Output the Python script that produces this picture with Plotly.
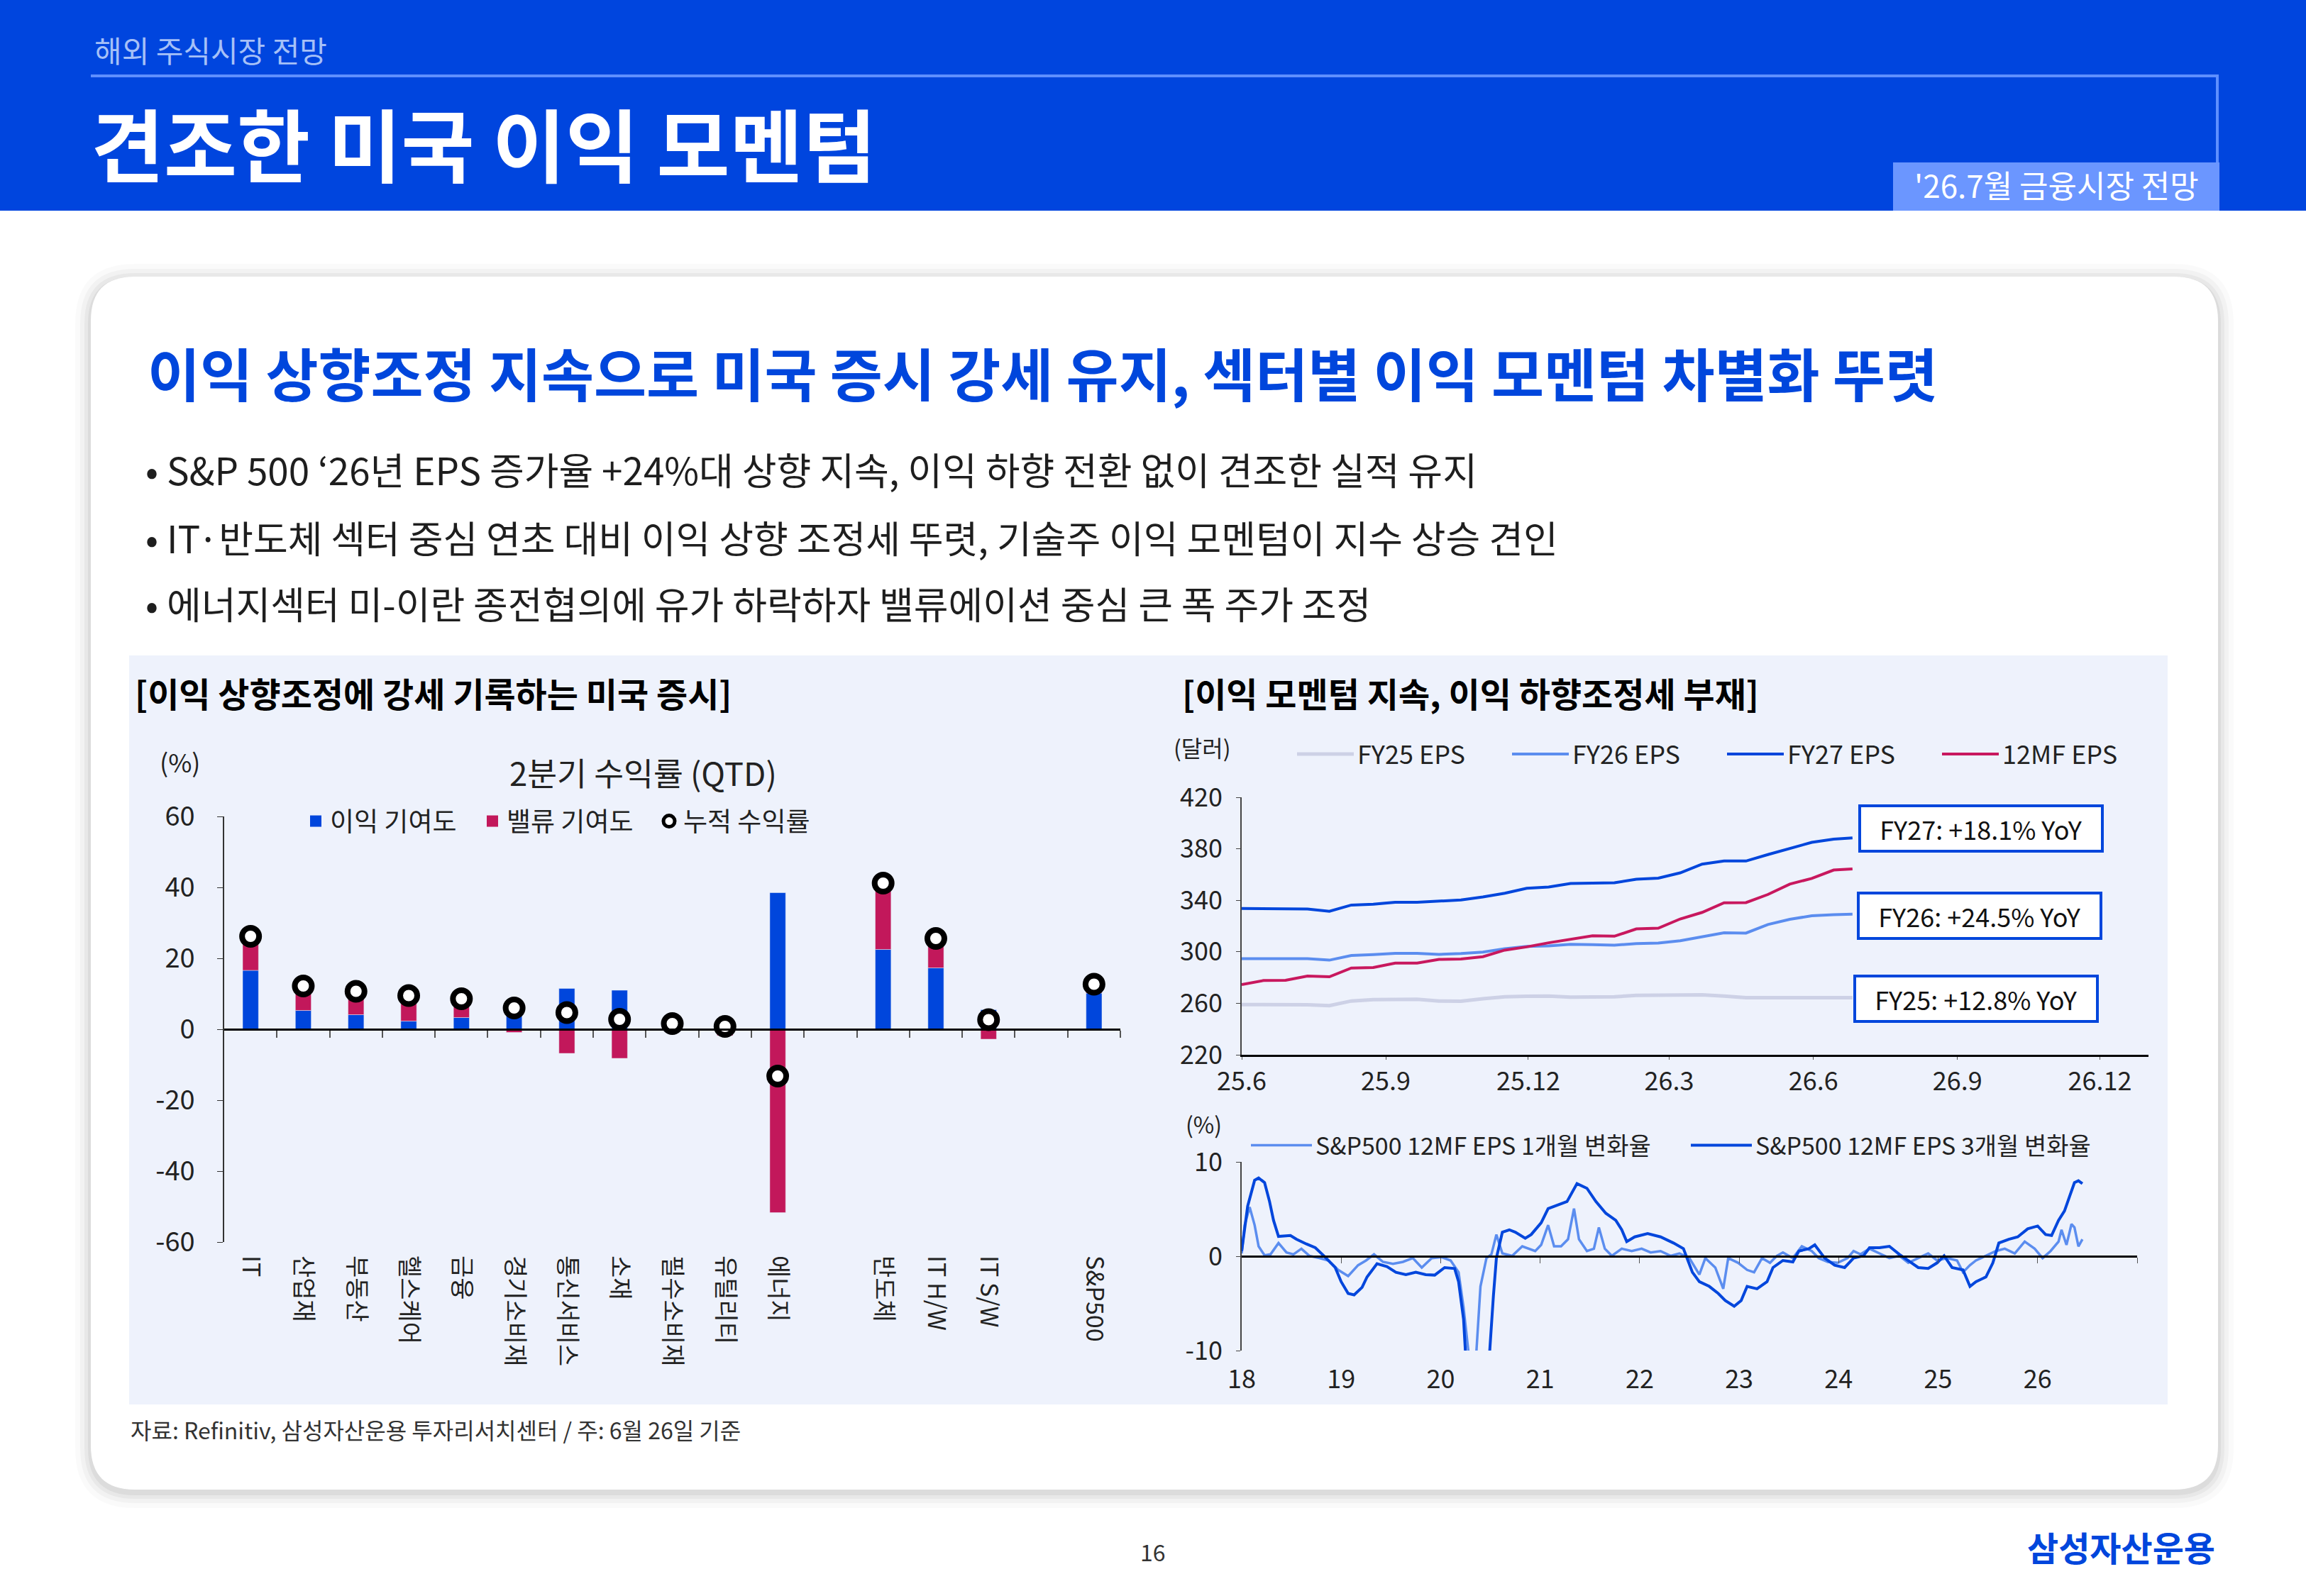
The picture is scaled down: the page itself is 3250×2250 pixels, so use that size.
import plotly.graph_objects as go

W, H = 3250, 2250
FONT = "Noto Sans CJK KR"
BLUE = "#0046DC"
PINK = "#C2185B"
MIDBLUE = "#5B8DEF"
LIGHTGREY = "#CDD1E6"
PANEL = "#EEF2FC"
TXT = "#1E1E1E"

# ---------------- left chart: 2Q QTD return decomposition ----------------
sectors = ["IT", "산업재", "부동산", "헬스케어", "금융", "경기소비재", "통신서비스", "소재",
           "필수소비재", "유틸리티", "에너지", "", "반도체", "IT H/W", "IT S/W", "", "S&P500"]
earn_contrib = [16.6, 5.3, 4.1, 2.3, 3.3, 6.9, 11.5, 11.0, 1.8, 2.6, 38.5, None, 22.5, 17.3, 5.5, None, 10.2]
value_contrib = [9.6, 6.9, 6.6, 7.2, 5.3, -0.9, -6.8, -8.2, -0.2, -1.8, -51.7, None, 18.7, 8.3, -2.8, None, 2.5]
qtd_return = [26.2, 12.2, 10.7, 9.5, 8.6, 6.0, 4.7, 2.8, 1.6, 0.8, -13.2, None, 41.2, 25.6, 2.7, None, 12.7]
left_yticks = [-60, -40, -20, 0, 20, 40, 60]
left_yticklabels = ["-60", "-40", "-20", "0", "20", "40", "60"]

# ---------------- right top: S&P500 EPS estimates ----------------
eps_dates = ["2025-06-01", "2025-06-15", "2025-06-29", "2025-07-13", "2025-07-27", "2025-08-10",
             "2025-08-24", "2025-09-07", "2025-09-21", "2025-10-05", "2025-10-19", "2025-11-02",
             "2025-11-16", "2025-11-30", "2025-12-14", "2025-12-28", "2026-01-11", "2026-01-25",
             "2026-02-08", "2026-02-22", "2026-03-08", "2026-03-22", "2026-04-05", "2026-04-19",
             "2026-05-03", "2026-05-17", "2026-05-31", "2026-06-14", "2026-06-26"]
fy25_eps = [259.0, 259.0, 259.0, 258.8, 258.2, 261.8, 262.8, 263.1, 263.1, 261.8, 261.6, 263.5, 265.0,
            265.4, 265.6, 264.7, 264.8, 265.0, 266.2, 266.5, 266.6, 266.5, 265.6, 264.4, 264.4, 264.4,
            264.4, 264.4, 264.4]
fy26_eps = [294.6, 294.6, 294.6, 294.6, 293.5, 297.1, 297.8, 298.8, 298.8, 298.0, 298.7, 299.8, 302.4,
            304.2, 304.6, 305.8, 305.6, 305.1, 306.4, 306.8, 308.6, 311.7, 314.8, 314.5, 321.2, 325.2,
            328.0, 328.8, 329.2]
fy27_eps = [333.6, 333.6, 333.2, 333.2, 331.5, 336.3, 337.0, 338.5, 338.4, 339.3, 340.3, 342.6, 345.5,
            349.3, 350.3, 353.0, 353.1, 353.6, 356.4, 357.2, 361.3, 368.1, 370.5, 370.5, 375.5, 380.5,
            385.0, 387.5, 388.5]
mf12_eps = [274.5, 277.7, 277.9, 281.2, 280.6, 287.4, 287.8, 291.2, 291.2, 294.1, 294.4, 296.2, 301.3,
            303.8, 307.0, 309.5, 312.4, 312.1, 317.8, 318.3, 325.5, 330.6, 338.1, 338.2, 344.5, 352.6,
            357.0, 363.5, 364.4]
eps_tick_dates = ["2025-06-01", "2025-09-01", "2025-12-01", "2026-03-01", "2026-06-01", "2026-09-01", "2026-12-01"]
eps_tick_labels = ["25.6", "25.9", "25.12", "26.3", "26.6", "26.9", "26.12"]
eps_yticks = [220, 260, 300, 340, 380, 420]
yoy_labels = ["FY27: +18.1% YoY", "FY26: +24.5% YoY", "FY25: +12.8% YoY"]

# ---------------- right bottom: 12MF EPS revisions ----------------
chg1m_x = [2018.00, 2018.03, 2018.08, 2018.13, 2018.17, 2018.23, 2018.29, 2018.37, 2018.45, 2018.52,
           2018.60, 2018.68, 2018.78, 2018.87, 2018.97, 2019.07, 2019.17, 2019.25, 2019.33, 2019.42,
           2019.52, 2019.62, 2019.72, 2019.81, 2019.91, 2020.01, 2020.10, 2020.18, 2020.23, 2020.28,
           2020.33, 2020.40, 2020.46, 2020.51, 2020.56, 2020.62, 2020.72, 2020.82, 2020.88, 2020.95,
           2021.01, 2021.08, 2021.14, 2021.21, 2021.28, 2021.34, 2021.39, 2021.47, 2021.54, 2021.59,
           2021.65, 2021.72, 2021.82, 2021.92, 2022.02, 2022.11, 2022.21, 2022.31, 2022.40, 2022.50,
           2022.60, 2022.66, 2022.76, 2022.84, 2022.89, 2022.99, 2023.08, 2023.15, 2023.23, 2023.31,
           2023.38, 2023.44, 2023.54, 2023.63, 2023.73, 2023.80, 2023.89, 2023.99, 2024.09, 2024.15,
           2024.22, 2024.31, 2024.41, 2024.51, 2024.61, 2024.70, 2024.80, 2024.90, 2024.99, 2025.09,
           2025.19, 2025.25, 2025.32, 2025.38, 2025.48, 2025.58, 2025.67, 2025.77, 2025.87, 2025.97,
           2026.05, 2026.13, 2026.21, 2026.24, 2026.29, 2026.34, 2026.37, 2026.41, 2026.45]
chg1m = [0.3, 3.3, 5.2, 3.3, 1.05, 0.1, 0.2, 1.4, 0.4, 0.2,
         0.8, 0.05, -0.2, -0.45, -1.45, -2.1, -0.95, -0.45, 0.2, -0.6,
         -0.8, -0.6, -0.2, -1.2, -0.2, -0.1, -0.45, -1.7, -5.45, -10.5,
         -15.0, -3.2, -0.2, 0.2, 2.3, 0.3, 0.05, 1.05, 0.8, 0.55,
         1.2, 3.3, 1.05, 1.05, 1.8, 5.05, 1.8, 0.55, 0.8, 3.05,
         0.8, 0.05, 0.8, 0.55, 0.8, 0.4, 0.55, 0.05, 0.3, -0.2,
         -1.95, -0.2, -1.2, -3.45, -0.2, -0.7, -1.45, -1.7, -0.2, -0.7,
         0.05, 0.4, -0.2, 1.05, 0.55, -0.2, -0.6, -0.7, -0.2, 0.55,
         0.2, 0.8, 0.3, -0.2, 0.05, -0.7, -0.2, 0.3, -0.45, -0.2,
         -0.45, -1.7, -0.95, -0.45, 0.05, 0.55, 0.8, 0.3, 1.55, 0.8,
         -0.2, 0.55, 1.55, 2.8, 1.2, 3.4, 3.05, 1.05, 1.8]
chg3m_x = [2018.00, 2018.06, 2018.13, 2018.17, 2018.23, 2018.28, 2018.32, 2018.37, 2018.49, 2018.55,
           2018.65, 2018.74, 2018.84, 2018.94, 2019.00, 2019.07, 2019.13, 2019.21, 2019.26, 2019.36,
           2019.46, 2019.55, 2019.65, 2019.75, 2019.85, 2019.94, 2020.04, 2020.14, 2020.18, 2020.23,
           2020.27, 2020.33, 2020.43, 2020.49, 2020.53, 2020.56, 2020.62, 2020.69, 2020.75, 2020.85,
           2020.91, 2021.01, 2021.08, 2021.17, 2021.27, 2021.37, 2021.47, 2021.56, 2021.66, 2021.76,
           2021.82, 2021.87, 2021.95, 2022.08, 2022.21, 2022.34, 2022.44, 2022.53, 2022.60, 2022.70,
           2022.79, 2022.86, 2022.95, 2023.02, 2023.08, 2023.18, 2023.28, 2023.34, 2023.44, 2023.54,
           2023.60, 2023.70, 2023.76, 2023.86, 2023.96, 2024.06, 2024.15, 2024.25, 2024.31, 2024.41,
           2024.51, 2024.61, 2024.70, 2024.80, 2024.90, 2024.99, 2025.06, 2025.14, 2025.25, 2025.32,
           2025.38, 2025.48, 2025.55, 2025.61, 2025.71, 2025.80, 2025.90, 2026.00, 2026.08, 2026.14,
           2026.21, 2026.27, 2026.32, 2026.37, 2026.41, 2026.45]
chg3m = [0.55, 5.3, 8.05, 8.3, 7.8, 5.8, 3.8, 2.1, 2.2, 1.8,
         1.3, 0.9, -0.1, -1.2, -2.7, -3.95, -4.1, -3.3, -2.2, -0.8,
         -1.1, -1.7, -1.95, -1.7, -1.95, -2.0, -1.2, -1.3, -2.7, -6.7,
         -14.0, -22.0, -22.0, -10.5, -4.2, -0.2, 2.55, 2.8, 2.55, 1.9,
         2.3, 3.55, 5.05, 5.4, 5.8, 7.7, 7.2, 5.8, 4.55, 3.8,
         2.8, 1.55, 2.05, 2.4, 2.05, 1.4, 0.8, -1.7, -2.7, -3.2,
         -3.95, -4.7, -5.3, -4.7, -3.2, -3.45, -2.7, -1.2, -0.45, -0.6,
         0.55, 0.8, 1.2, -0.2, -0.95, -1.2, -0.2, 0.05, 0.9, 0.9,
         1.05, 0.2, -0.45, -1.2, -1.3, -0.7, 0.05, -1.2, -1.45, -3.2,
         -2.7, -2.2, -0.7, 1.4, 1.8, 2.05, 2.9, 3.2, 2.3, 2.2,
         3.8, 4.8, 6.3, 7.8, 8.0, 7.7]
year_ticks = [2018, 2019, 2020, 2021, 2022, 2023, 2024, 2025, 2026]
year_labels = ["18", "19", "20", "21", "22", "23", "24", "25", "26"]
rev_yticks = [-10, 0, 10]
rev_yticklabels = ["-10", "0", "10"]

# ---------------- slide texts ----------------
section_label = "해외 주식시장 전망"
page_title = "견조한 미국 이익 모멘텀"
issue_label = "'26.7월 금융시장 전망"
headline = "이익 상향조정 지속으로 미국 증시 강세 유지, 섹터별 이익 모멘텀 차별화 뚜렷"
bullets = ["• S&P 500 ‘26년 EPS 증가율 +24%대 상향 지속, 이익 하향 전환 없이 견조한 실적 유지",
           "• IT·반도체 섹터 중심 연초 대비 이익 상향 조정세 뚜렷, 기술주 이익 모멘텀이 지수 상승 견인",
           "• 에너지섹터 미-이란 종전협의에 유가 하락하자 밸류에이션 중심 큰 폭 주가 조정"]
left_title = "[이익 상향조정에 강세 기록하는 미국 증시]"
right_title = "[이익 모멘텀 지속, 이익 하향조정세 부재]"
source_note = "자료: Refinitiv, 삼성자산운용 투자리서치센터 / 주: 6월 26일 기준"


def px(x):
    return x / W


def py(y):
    return 1 - y / H


xpos = list(range(len(sectors)))
label_idx = [i for i, s in enumerate(sectors) if s]
label_txt = [sectors[i] for i in label_idx]
boundaries = [i + 0.5 for i in xpos]

fig = go.Figure()
fig.add_trace(go.Bar(x=xpos, y=earn_contrib, name="이익 기여도", marker_color=BLUE, width=0.3,
                     xaxis="x", yaxis="y", showlegend=False))
fig.add_trace(go.Bar(x=xpos, y=value_contrib, name="밸류 기여도", marker_color=PINK, width=0.3,
                     xaxis="x", yaxis="y", showlegend=False))
# legend keys for the bar series (square swatches as in the reference)
fig.add_trace(go.Scatter(x=[None], y=[None], mode="markers", name="이익 기여도",
                         marker=dict(symbol="square", size=16, color=BLUE), xaxis="x", yaxis="y", legend="legend"))
fig.add_trace(go.Scatter(x=[None], y=[None], mode="markers", name="밸류 기여도",
                         marker=dict(symbol="square", size=16, color=PINK), xaxis="x", yaxis="y", legend="legend"))
fig.add_trace(go.Scatter(x=xpos, y=qtd_return, mode="markers", name="누적 수익률",
                         marker=dict(size=24, color="white", line=dict(color="black", width=8)),
                         xaxis="x4", yaxis="y", legend="legend"))

for name, vals, col, wd in [("FY25 EPS", fy25_eps, LIGHTGREY, 5), ("FY26 EPS", fy26_eps, MIDBLUE, 4),
                            ("FY27 EPS", fy27_eps, BLUE, 4), ("12MF EPS", mf12_eps, "#C8185E", 4)]:
    fig.add_trace(go.Scatter(x=eps_dates, y=vals, mode="lines", name=name,
                             line=dict(color=col, width=wd), xaxis="x2", yaxis="y2", legend="legend2"))

fig.add_trace(go.Scatter(x=chg1m_x, y=chg1m, mode="lines", name="S&P500 12MF EPS 1개월 변화율",
                         line=dict(color=MIDBLUE, width=3.5), xaxis="x3", yaxis="y3", legend="legend3"))
fig.add_trace(go.Scatter(x=chg3m_x, y=chg3m, mode="lines", name="S&P500 12MF EPS 3개월 변화율",
                         line=dict(color=BLUE, width=4), xaxis="x5", yaxis="y3", legend="legend3"))

# domains
L_x = [px(316), px(1579)]
L_y = [py(1751), py(1151)]
RT_x = [px(1750), px(3028)]
RT_y = [py(1487), py(1124)]
RB_x = [px(1750), px(3012)]
RB_y = [py(1904), py(1638)]
L_range = [-60, 60]
RB_range = [-10, 10]
L_zero = L_y[0] + (0 - L_range[0]) / (L_range[1] - L_range[0]) * (L_y[1] - L_y[0])
RB_zero = RB_y[0] + (0 - RB_range[0]) / (RB_range[1] - RB_range[0]) * (RB_y[1] - RB_y[0])

tickfont = dict(family=FONT, size=36, color="#222")

layout = dict(
    width=W, height=H, margin=dict(l=0, r=0, t=0, b=0, pad=0, autoexpand=False), autosize=False,
    paper_bgcolor="white", plot_bgcolor="rgba(0,0,0,0)", barmode="relative",
    font=dict(family=FONT, color="#222"), showlegend=True,
    xaxis=dict(domain=L_x, range=[-0.5, len(sectors) - 0.5], anchor="y", tickvals=label_idx,
               ticktext=label_txt, tickangle=90, tickfont=dict(family=FONT, size=34, color="#222"),
               showline=False, ticks="", showgrid=False, zeroline=False, ticklabelstandoff=18,
               automargin=False),
    xaxis4=dict(overlaying="x", anchor="free", position=L_zero, side="bottom",
                range=[-0.5, len(sectors) - 0.5], showline=True, linecolor="black", linewidth=2.5,
                ticks="outside", ticklen=10, tickwidth=1.5, tickcolor="#555", tickvals=boundaries,
                showticklabels=False, showgrid=False, zeroline=False, automargin=False),
    yaxis=dict(domain=L_y, range=L_range, anchor="x", tickvals=left_yticks, ticktext=left_yticklabels,
               showline=True, linecolor="#333", linewidth=1.5, ticks="outside", ticklen=8, tickcolor="#333",
               tickfont=dict(family=FONT, size=38, color="#222"), showgrid=False, zeroline=False,
               ticklabelstandoff=24, automargin=False),
    xaxis2=dict(type="date", domain=RT_x, range=["2025-06-01", "2027-01-01"], anchor="y2",
                tickvals=eps_tick_dates, ticktext=eps_tick_labels, showline=True, linecolor="black",
                linewidth=3, ticks="outside", ticklen=4, tickcolor="#555", tickfont=tickfont,
                showgrid=False, zeroline=False, ticklabelstandoff=0, automargin=False),
    yaxis2=dict(domain=RT_y, range=[220, 420], anchor="x2", tickvals=eps_yticks, showline=True,
                linecolor="#444", linewidth=1.5, ticks="outside", ticklen=6, tickcolor="#444",
                tickfont=tickfont, showgrid=False, zeroline=False, ticklabelstandoff=12, automargin=False),
    xaxis3=dict(domain=RB_x, range=[2018, 2027], anchor="y3", tickvals=year_ticks, ticktext=year_labels,
                showline=False, ticks="", tickfont=tickfont, showgrid=False, zeroline=False,
                ticklabelstandoff=16, automargin=False),
    xaxis5=dict(overlaying="x3", anchor="free", position=RB_zero, side="bottom", range=[2018, 2027],
                showline=True, linecolor="black", linewidth=2.5, ticks="outside", ticklen=8,
                tickcolor="#555", tickvals=year_ticks[1:] + [2027], showticklabels=False,
                showgrid=False, zeroline=False, automargin=False),
    yaxis3=dict(domain=RB_y, range=RB_range, anchor="x3", tickvals=rev_yticks, ticktext=rev_yticklabels,
                showline=True, linecolor="#444", linewidth=1.5, ticks="outside", ticklen=6,
                tickcolor="#444", tickfont=tickfont, showgrid=False, zeroline=False,
                ticklabelstandoff=12, automargin=False),
    legend=dict(x=px(425), y=py(1158), xanchor="left", yanchor="middle", orientation="h",
                font=dict(family=FONT, size=37, color="#222"), bgcolor="rgba(0,0,0,0)",
                entrywidth=204, entrywidthmode="pixels", traceorder="normal"),
    legend2=dict(x=px(1823), y=py(1063), xanchor="left", yanchor="middle", orientation="h",
                 font=dict(family=FONT, size=36, color="#222"), bgcolor="rgba(0,0,0,0)",
                 itemwidth=80, entrywidth=208, entrywidthmode="pixels", traceorder="normal"),
    legend3=dict(x=px(1758), y=py(1615), xanchor="left", yanchor="middle", orientation="h",
                 font=dict(family=FONT, size=34, color="#222"), bgcolor="rgba(0,0,0,0)",
                 itemwidth=86, entrywidth=519, entrywidthmode="pixels", traceorder="normal"),
)


def rrect(x0, y0, x1, y1, r):
    X, Y = px, py
    return (f"M {X(x0 + r)},{Y(y0)} L {X(x1 - r)},{Y(y0)} Q {X(x1)},{Y(y0)} {X(x1)},{Y(y0 + r)} "
            f"L {X(x1)},{Y(y1 - r)} Q {X(x1)},{Y(y1)} {X(x1 - r)},{Y(y1)} L {X(x0 + r)},{Y(y1)} "
            f"Q {X(x0)},{Y(y1)} {X(x0)},{Y(y1 - r)} L {X(x0)},{Y(y0 + r)} Q {X(x0)},{Y(y0)} {X(x0 + r)},{Y(y0)} Z")


shapes = []
for grow, op in [(22, 0.02), (15, 0.03), (9, 0.04), (4, 0.05)]:
    shapes.append(dict(type="path", path=rrect(128 - grow, 390 - grow + 4, 3126 + grow, 2100 + grow + 4, 62 + grow),
                       xref="paper", yref="paper", fillcolor=f"rgba(0,0,0,{op})", line=dict(width=0),
                       layer="below"))
shapes.append(dict(type="path", path=rrect(128, 390, 3126, 2100, 62), xref="paper", yref="paper",
                   fillcolor="white", line=dict(width=0), layer="below"))
shapes.append(dict(type="rect", xref="paper", yref="paper", x0=px(182), x1=px(3055), y0=py(1980), y1=py(924),
                   fillcolor=PANEL, line=dict(width=0), layer="below"))
shapes.append(dict(type="rect", xref="paper", yref="paper", x0=0, x1=1, y0=py(297), y1=1,
                   fillcolor="#0045DE", line=dict(width=0), layer="below"))
shapes.append(dict(type="path", xref="paper", yref="paper",
                   path=f"M {px(128)},{py(107)} L {px(3125)},{py(107)} L {px(3125)},{py(230)}",
                   line=dict(color="#5F8FFF", width=4), fillcolor="rgba(0,0,0,0)", layer="below"))
shapes.append(dict(type="rect", xref="paper", yref="paper", x0=px(2668), x1=px(3128), y0=py(297), y1=py(229),
                   fillcolor="#6B96FF", line=dict(width=0), layer="below"))
layout["shapes"] = shapes


def T(text, x, y, size, color=TXT, xanchor="left", bold=False):
    return dict(text=f"<b>{text}</b>" if bold else text, x=px(x), y=py(y), xref="paper", yref="paper",
                xanchor=xanchor, yanchor="middle", showarrow=False,
                font=dict(family=FONT, size=size, color=color))


ann = [
    T(section_label, 131, 70, 42, "#A6C0F7"),
    T(page_title, 126, 200, 112, "white", bold=True),
    T(issue_label, 2898, 260, 44, "white", xanchor="center"),
    T(headline, 206, 524, 80.5, BLUE, bold=True),
    T(bullets[0], 203, 661, 53),
    T(bullets[1], 203, 757, 53),
    T(bullets[2], 203, 850, 53),
    T(left_title, 188, 976, 48, "black", bold=True),
    T(right_title, 1664, 976, 48, "black", bold=True),
    T("2분기 수익률 (QTD)", 906, 1088, 45.5, "#222", xanchor="center"),
    T("(%)", 254, 1073, 36, "#222", xanchor="center"),
    T("(달러)", 1694, 1053, 32, "#222", xanchor="center"),
    T("(%)", 1696, 1584, 32, "#222", xanchor="center"),
    T(source_note, 182, 2015, 32, "#333"),
    T("16", 1625, 2187, 32, "#333", xanchor="center"),
    T("삼성자산운용", 3124, 2180, 48, BLUE, xanchor="right", bold=True),
]
for label, xd, yv in zip(yoy_labels, ["2026-09-16", "2026-09-15", "2026-09-13"], [395.8, 328.0, 263.5]):
    ann.append(dict(text=label, x=xd, y=yv, xref="x2", yref="y2", showarrow=False, xanchor="center",
                    yanchor="middle", font=dict(family=FONT, size=36, color="#111"), bgcolor="white",
                    bordercolor=BLUE, borderwidth=4, borderpad=2, width=334, height=56))
layout["annotations"] = ann

fig.update_layout(**layout)
fig.write_html("out.html")
